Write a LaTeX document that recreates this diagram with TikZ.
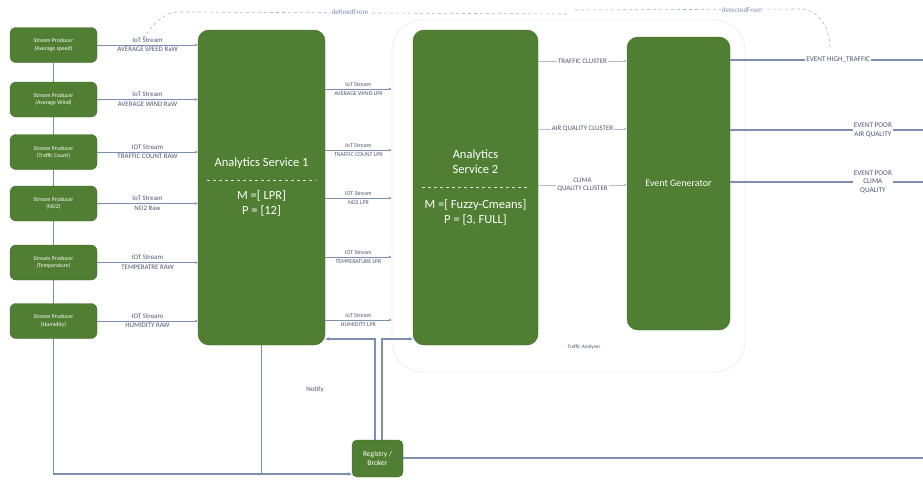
\documentclass[tikz,border=0pt]{standalone}
\usepackage{fontspec}
\setmainfont{Carlito}
\usetikzlibrary{arrows.meta,backgrounds}
\definecolor{gfill}{HTML}{507E32}
\definecolor{gdraw}{HTML}{436B29}
\definecolor{lnk}{HTML}{7C8FB3}
\definecolor{txt}{HTML}{4A5670}
\begin{document}
\begin{tikzpicture}[x=1pt,y=-1pt,
 prod/.style={draw=gdraw, fill=gfill, rounded corners=6pt, minimum width=87pt, minimum height=35pt, text=white, font=\fontsize{5.8}{7.2}\selectfont, align=center, inner sep=1pt},
 svc/.style={draw=gdraw, fill=gfill, rounded corners=11pt, inner sep=0pt},
 svctext/.style={text=white, font=\fontsize{12.5}{15}\selectfont, align=center, inner sep=1pt},
 conn/.style={draw=lnk, line width=0.6pt, -{Stealth[length=3pt,width=2.5pt]}},
 link/.style={draw=lnk, line width=1.1pt},
 linka/.style={draw=lnk, line width=1.1pt, -{Stealth[length=4pt,width=3.5pt]}},
 dashlink/.style={draw=lnk!70, line width=0.6pt, dashed},
 lab/.style={text=txt, font=\fontsize{6.9}{8}\selectfont, align=center, inner sep=2.2pt},
 mlab/.style={lab, font=\fontsize{5.9}{7}\selectfont},
 ilab/.style={lab, fill=white, inner sep=1.2pt},
 olab/.style={ilab, font=\fontsize{7.2}{8.7}\selectfont},
]
\useasboundingbox (0,0) rectangle (923,479);
% container
\node[draw=black!7, line width=0.8pt, rounded corners=30pt, minimum width=353pt, minimum height=352pt, inner sep=0pt] (ta) at (568.5,196) {};
\node[lab, font=\fontsize{5.3}{6}\selectfont] (talab) at (584,347) {Traffic Analyser};
% producers
\node[prod] (p1) at (53.5,45) {Stream Producer\\(Average speed)};
\node[prod] (p2) at (53.5,99.5) {Stream Producer\\(Average Wind)};
\node[prod] (p3) at (53.5,152) {Stream Producer\\(Traffic Count)};
\node[prod] (p4) at (53.5,203.5) {Stream Producer\\(NO2)};
\node[prod] (p5) at (53.5,262.5) {Stream Producer\\(Temperature)};
\node[prod] (p6) at (53.5,321) {Stream Producer\\(Humidity)};
% services
\node[svc, minimum width=127pt, minimum height=315pt] (as1) at (261.5,187.5) {};
\node[svctext] (as1t) at (261.5,163) {Analytics Service 1};
\draw[white!80!gfill, dashed, line width=0.5pt] (207,180) -- (316,180);
\node[svctext] (as1m) at (261.5,203) {M =[ LPR]\\P = [12]};
\node[svc, minimum width=125pt, minimum height=315pt] (as2) at (475.5,187.5) {};
\node[svctext] (as2t) at (475.5,162) {Analytics\\Service 2};
\draw[white!80!gfill, dashed, line width=0.5pt] (422,187) -- (530,187);
\node[svctext] (as2m) at (475.5,212) {M =[ Fuzzy-Cmeans]\\P = [3, FULL]};
\node[svc, minimum width=103pt, minimum height=293pt, text=white, font=\fontsize{10}{12}\selectfont] (eg) at (678.5,183.5) {Event Generator};
\node[svc, rounded corners=5pt, minimum width=51pt, minimum height=37pt, text=white, font=\fontsize{7.5}{9.5}\selectfont, align=center] (reg) at (377.5,458.5) {Registry /\\Broker};
\node[lab, font=\fontsize{7}{8}\selectfont] (notify) at (315,390) {Notify};
% helper coordinates
\coordinate (bl) at (53.5,474);
\coordinate (r89) at (0,89);
\coordinate (r150) at (0,150);
\coordinate (r198) at (0,198);
\coordinate (r257) at (0,257);
\coordinate (r320) at (0,320);
\coordinate (c61) at (0,61);
\coordinate (c129) at (0,129);
\coordinate (c185) at (0,185);
\coordinate (o60) at (923,60);
\coordinate (o130) at (923,130);
\coordinate (o182) at (923,182);
\coordinate (rl) at (375,339);
\coordinate (rr) at (382,339);
\coordinate (re) at (923,458);
\coordinate (dfa) at (567,14);
\coordinate (dfb) at (143,38);
\coordinate (dta) at (575,10);
\coordinate (dtb) at (830,48);
\begin{pgfonlayer}{background}
\draw[linka] (p1.south) -- (bl) -- (bl -| reg.west);
\draw[link] (as1.south) -- (as1.south |- bl);
\end{pgfonlayer}
% producers -> AS1
\draw[conn] (p1.east) -- (p1.east -| as1.west) node[lab, midway, above] (l1a) {IoT Stream} node[lab, midway, below] (l1b) {AVERAGE SPEED RaW};
\draw[conn] (p2.east) -- (p2.east -| as1.west) node[lab, midway, above] (l2a) {IoT Stream} node[lab, midway, below] (l2b) {AVERAGE WIND RaW};
\draw[conn] (p3.east) -- (p3.east -| as1.west) node[lab, midway, above] (l3a) {IOT Stream} node[lab, midway, below] (l3b) {TRAFFIC COUNT RAW};
\draw[conn] (p4.east) -- (p4.east -| as1.west) node[lab, midway, above] (l4a) {IoT Stream} node[lab, midway, below] (l4b) {NO2 Raw};
\draw[conn] (p5.east) -- (p5.east -| as1.west) node[lab, midway, above] (l5a) {IOT Stream} node[lab, midway, below] (l5b) {TEMPERATRE RAW};
\draw[conn] (p6.east) -- (p6.east -| as1.west) node[lab, midway, above] (l6a) {IOT Stream} node[lab, midway, below] (l6b) {HUMIDITY RAW};
% AS1 -> Traffic Analyser
\draw[conn] (as1.east |- r89) -- (ta.west |- r89) node[mlab, midway, above] (m1a) {IoT Stream} node[mlab, midway, below] (m1b) {AVERAGE WIND LPR};
\draw[conn] (as1.east |- r150) -- (ta.west |- r150) node[mlab, midway, above] (m2a) {IoT Stream} node[mlab, midway, below] (m2b) {TRAFFIC COUNT LPR};
\draw[conn] (as1.east |- r198) -- (ta.west |- r198) node[mlab, midway, above] (m3a) {IOT Stream} node[mlab, midway, below] (m3b) {NO2 LPR};
\draw[conn] (as1.east |- r257) -- (ta.west |- r257) node[mlab, midway, above] (m4a) {IOT Stream} node[mlab, midway, below] (m4b) {TEMPERATURE LPR};
\draw[conn] (as1.east |- r320) -- (ta.west |- r320) node[mlab, midway, above] (m5a) {IoT Stream} node[mlab, midway, below] (m5b) {HUMIDITY LPR};
% AS2 -> EG
\draw[conn, draw=lnk!60] (as2.east |- c61) -- (eg.west |- c61) node[ilab, midway] (k1) {TRAFFIC CLUSTER};
\draw[conn, draw=lnk!60] (as2.east |- c129) -- (eg.west |- c129) node[ilab, midway] (k2) {AIR QUALITY CLUSTER};
\draw[conn, draw=lnk!60] (as2.east |- c185) -- (eg.west |- c185) node[ilab, midway] (k3) {CLIMA\\QUALITY CLUSTER};
% EG -> outputs
\draw[link] (eg.east |- o60) -- (o60) node[olab, pos=0.56] (e1) {EVENT HIGH\_TRAFFIC};
\draw[link] (eg.east |- o130) -- (o130) node[olab, pos=0.74] (e2) {EVENT POOR\\AIR QUALITY};
\draw[link] (eg.east |- o182) -- (o182) node[olab, pos=0.74] (e3) {EVENT POOR\\CLIMA\\QUALITY};
% registry links
\draw[linka] (reg.north -| rl) -- (rl) -- (rl -| as1.east);
\draw[linka] (reg.north -| rr) -- (rr) -- (rr -| as2.west);
\draw[link] (reg.east |- re) -- (re);
% dashed relations
\draw[dashlink, -{Stealth[length=3pt,width=2.5pt]}] (dfa) -- (180,12) to[out=180,in=50] (dfb);
\node[ilab, text=lnk, font=\fontsize{7}{8}\selectfont] (dflab) at (350,12) {definedFrom};
\draw[dashlink] (dta) -- (800,9) to[out=0,in=90] (dtb);
\node[ilab, text=lnk, font=\fontsize{7}{8}\selectfont] (dtlab) at (742,10) {detectedFrom};
\end{tikzpicture}
\end{document}
